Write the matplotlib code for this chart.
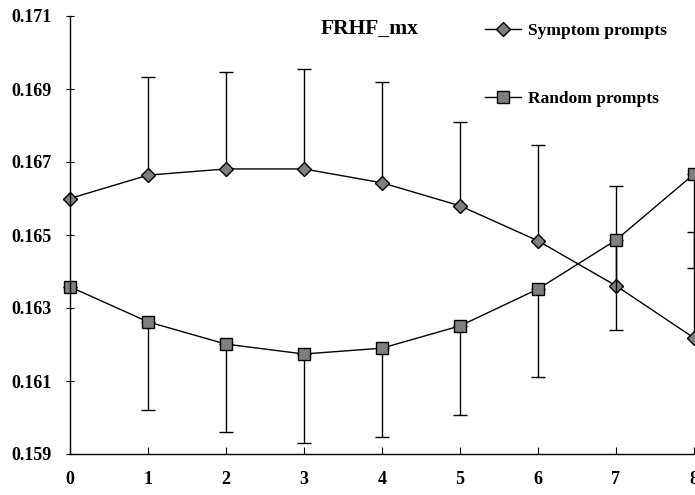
import matplotlib
matplotlib.use("Agg")
import matplotlib.pyplot as plt

# data
x_vals = [0, 1, 2, 3, 4, 5, 6, 7, 8]
symptom = [0.1660, 0.16664, 0.16681, 0.16681, 0.16643, 0.16580, 0.16484, 0.16361, 0.16218]
symptom_err_up = [0.0, 0.00269, 0.00266, 0.00274, 0.00277, 0.00230, 0.00263, 0.00273, 0.00290]
random_p = [0.16358, 0.16262, 0.16201, 0.16174, 0.16190, 0.16251, 0.16352, 0.16486, 0.16667]
random_err_down = [0.0, 0.00241, 0.00241, 0.00244, 0.00244, 0.00244, 0.00241, 0.00246, 0.00257]
y_ticks = [0.159, 0.161, 0.163, 0.165, 0.167, 0.169, 0.171]

plt.rcParams['font.family'] = ['Liberation Serif', 'DejaVu Serif']
plt.rcParams['font.weight'] = 'bold'
plt.rcParams['font.size'] = 13

fig = plt.figure(figsize=(6.95, 4.95), dpi=100)
ax = fig.add_axes([70 / 695, 1 - 454 / 495, 624 / 695, 438 / 495])

zeros = [0.0] * len(x_vals)

# symptom prompts: error bars upward
ax.errorbar(x_vals, symptom, yerr=[zeros, symptom_err_up], fmt='none',
            ecolor='black', elinewidth=1, capsize=5, capthick=1, clip_on=False)
ax.plot(x_vals, symptom, color='black', lw=1, marker='D', markersize=7,
        markerfacecolor='#7f7f7f', markeredgecolor='black', markeredgewidth=1,
        label='Symptom prompts', clip_on=False)

# random prompts: error bars downward
ax.errorbar(x_vals, random_p, yerr=[random_err_down, zeros], fmt='none',
            ecolor='black', elinewidth=1, capsize=5, capthick=1, clip_on=False)
ax.plot(x_vals, random_p, color='black', lw=1, marker='s', markersize=8,
        markerfacecolor='#7f7f7f', markeredgecolor='black', markeredgewidth=1,
        label='Random prompts', clip_on=False)

ax.set_xlim(0, 8)
ax.set_ylim(0.159, 0.171)
ax.set_xticks(x_vals)
ax.set_yticks(y_ticks)
ax.set_yticklabels([f"{t:.3f}" for t in y_ticks])

ax.spines['top'].set_visible(False)
ax.spines['right'].set_visible(False)
ax.spines['left'].set_linewidth(1)
ax.spines['bottom'].set_linewidth(1)
ax.tick_params(axis='x', direction='in', length=5, pad=12)
ax.tick_params(axis='y', direction='inout', length=6, pad=10)

fig.text(370 / 695, 1 - 29 / 495, 'FRHF_mx', ha='center', va='center',
         fontsize=15.5, fontweight='bold')

ax.legend(loc='upper left', bbox_to_anchor=(478 / 695, 1 - 16 / 495),
          bbox_transform=fig.transFigure, frameon=False, labelspacing=3.0,
          handlelength=2.1, handletextpad=0.4, borderaxespad=0, fontsize=12.5)

fig.savefig('out.png', dpi=100)
